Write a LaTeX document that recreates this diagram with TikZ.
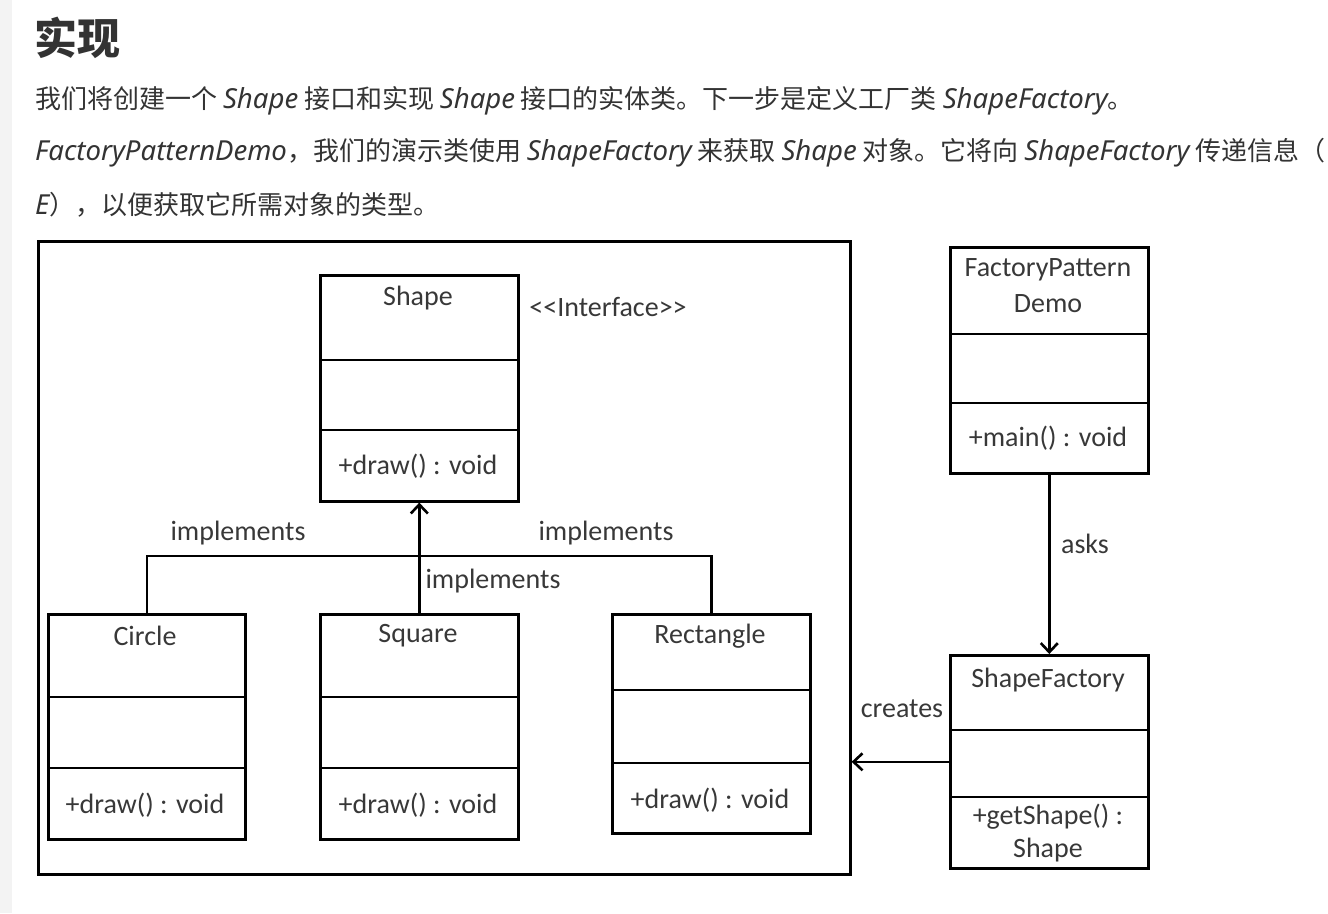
\documentclass[tikz,border=0pt]{standalone}
\usepackage{fontspec}
\setmainfont{Noto Sans CJK SC}
\newfontfamily\latinfont[Scale=1.06]{Noto Sans}
\newfontfamily\umlfont{Carlito}
\usetikzlibrary{arrows.meta,positioning}
\definecolor{bodytext}{HTML}{333333}
\definecolor{sidebar}{HTML}{F3F3F3}
\newcommand{\en}[1]{{\latinfont\itshape #1}}

\begin{document}
\begin{tikzpicture}[x=1pt, y=-1pt,
    box/.style={draw, line width=2.6pt, anchor=north west, inner sep=0pt},
    lbl/.style={font=\umlfont\fontsize{28}{30}\selectfont, text=black!78, inner sep=0pt},
    para/.style={anchor=west, inner sep=0pt, text=bodytext, font=\fontsize{26}{30}\selectfont},
    link/.style={line width=2.6pt},
    arr/.style={line width=2.6pt, -{Straight Barb[length=9pt, width=17pt]}}]
    \path[use as bounding box, clip] (0,0) rectangle (1328,913);
    \fill[sidebar] (0,0) rectangle (12,913);

    % heading and text
    \node[anchor=west, inner sep=0pt, text=bodytext, font=\fontsize{43}{48}\selectfont\bfseries] (title) at (34,38) {实现};
    \node[para] (line1) at (35,101) {我们将创建一个 \en{Shape} 接口和实现 \en{Shape} 接口的实体类。下一步是定义工厂类 \en{ShapeFactory}。};
    \node[para] (line2) at (35,153) {\en{FactoryPatternDemo}，我们的演示类使用 \en{ShapeFactory} 来获取 \en{Shape} 对象。它将向 \en{ShapeFactory} 传递信息（};
    \node[para] (line3) at (35,205) {\en{E}），以便获取它所需对象的类型。};

    % frame round the shapes
    \node[box, minimum width=812, minimum height=633] (frame) at (37,240) {};

    % interface
    \node[box, minimum width=198, minimum height=226] (shape) at (319,274) {};
    \draw[link] (319,360) -- (517,360);
    \draw[link] (319,430) -- (517,430);
    \node[lbl] (shapeName) at (418,298) {Shape};
    \node[lbl] (shapeOp) at (418,466) {+draw() : void};
    \node[lbl] (iface) at (608,307) {{<}{<}Interface{>}{>}};

    % concrete classes
    \node[box, minimum width=197, minimum height=225] (circle) at (47,613) {};
    \draw[link] (47,697) -- (244,697);
    \draw[link] (47,768) -- (244,768);
    \node[lbl] (circleName) at (145,636) {Circle};
    \node[lbl] (circleOp) at (145,805) {+draw() : void};

    \node[box, minimum width=198, minimum height=225] (square) at (319,613) {};
    \draw[link] (319,697) -- (517,697);
    \draw[link] (319,768) -- (517,768);
    \node[lbl] (squareName) at (418,636) {Square};
    \node[lbl] (squareOp) at (418,805) {+draw() : void};

    \node[box, minimum width=198, minimum height=219] (rect) at (611,613) {};
    \draw[link] (611,690) -- (809,690);
    \draw[link] (611,763) -- (809,763);
    \node[lbl] (rectName) at (710,636) {Rectangle};
    \node[lbl] (rectOp) at (710,800) {+draw() : void};

    % demo and factory
    \node[box, minimum width=198, minimum height=226] (demo) at (949,246) {};
    \draw[link] (949,334) -- (1147,334);
    \draw[link] (949,403) -- (1147,403);
    \node[lbl] (demoName) at (1048,270) {FactoryPattern};
    \node[lbl] (demoName2) at (1048,304) {Demo};
    \node[lbl] (demoOp) at (1048,438) {+main() : void};

    \node[box, minimum width=198, minimum height=213] (factory) at (949,654) {};
    \draw[link] (949,730) -- (1147,730);
    \draw[link] (949,797) -- (1147,797);
    \node[lbl] (factoryName) at (1048,680) {ShapeFactory};
    \node[lbl] (factoryOp) at (1048,817) {+getShape() :};
    \node[lbl] (factoryOp2) at (1048,850) {Shape};

    % connectors
    \coordinate (hub) at (418,556);
    \draw[link] (circle.north) |- (hub) -| (rect.north);
    \draw[arr] (square.north) -- (shape.south);
    \draw[arr] (demo.south) -- (factory.north);
    \draw[arr] (factory.west) -- (factory.west -| frame.east);

    \node[lbl] (impl1) at (238,533) {implements};
    \node[lbl] (impl2) at (606,533) {implements};
    \node[lbl] (impl3) at (493,581) {implements};
    \node[lbl] (asks) at (1085,544) {asks};
    \node[lbl] (creates) at (902,709) {creates};
\end{tikzpicture}
\end{document}
